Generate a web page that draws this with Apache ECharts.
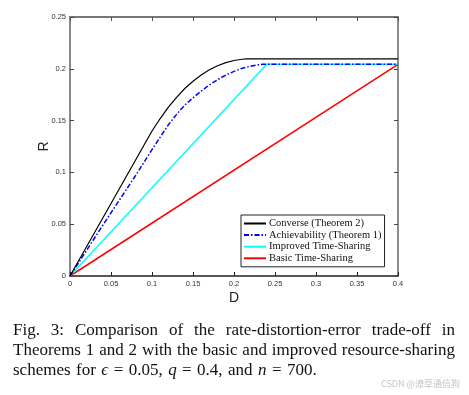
<!DOCTYPE html>
<html>
<head>
<meta charset="utf-8">
<script src="https://cdn.jsdelivr.net/npm/echarts@6/dist/echarts.min.js"></script>
<style>
  html, body { margin: 0; padding: 0; background: #fff; }
  #chart { position: absolute; left: 0; top: 0; width: 469px; height: 395px; }
  .cap { position: absolute; left: 13px; width: 442px; font-family: 'Liberation Serif', 'Times New Roman', serif; font-size: 17px; line-height: 20px; color: #111; white-space: nowrap; }
  .just { text-align: justify; text-align-last: justify; }
  .m { font-style: italic; }
  #wm { position: absolute; right: 9px; top: 377px; font-family: 'Noto Sans CJK SC', sans-serif; font-size: 9px; color: #c4c4c4; }
</style>
</head>
<body>
<div id="chart"></div>
<div class="cap just" style="top:320px;">Fig. 3: Comparison of the rate-distortion-error trade-off in</div>
<div class="cap just" style="top:340px;">Theorems 1 and 2 with the basic and improved resource-sharing</div>
<div class="cap" style="top:360px; word-spacing: 1.2px;">schemes for <span class="m">ϵ</span> = 0.05, <span class="m">q</span> = 0.4, and <span class="m">n</span> = 700.</div>
<div id="wm">CSDN @潦草通信狗</div>
<script>
// ---- data ----
const seriesNames = ['Converse (Theorem 2)', 'Achievability (Theorem 1)', 'Improved Time-Sharing', 'Basic Time-Sharing'];

const converseD = [0, 0.02, 0.04, 0.06, 0.08, 0.09, 0.10, 0.11, 0.12, 0.13, 0.14, 0.15, 0.16, 0.17, 0.18, 0.19, 0.20, 0.21, 0.215, 0.4];
const converseR = [0, 0.028, 0.056, 0.084, 0.112, 0.126, 0.140, 0.152, 0.163, 0.1725, 0.181, 0.188, 0.194, 0.199, 0.203, 0.206, 0.208, 0.2092, 0.2095, 0.2095];

const achD = [0, 0.04, 0.08, 0.10, 0.11, 0.12, 0.13, 0.14, 0.15, 0.16, 0.17, 0.18, 0.19, 0.20, 0.21, 0.22, 0.23, 0.235, 0.4];
const achR = [0, 0.049, 0.097, 0.122, 0.134, 0.146, 0.156, 0.165, 0.172, 0.1785, 0.1845, 0.1895, 0.194, 0.1975, 0.2005, 0.2025, 0.2038, 0.2043, 0.2043];

const improvedD = [0, 0.24, 0.4];
const improvedR = [0, 0.2043, 0.2043];

const basicD = [0, 0.4];
const basicR = [0, 0.2043];

const xTicks = { min: 0, max: 0.4, interval: 0.05 };
const yTicks = { min: 0, max: 0.25, interval: 0.05 };

function pairs(xs, ys) { return xs.map((x, i) => [x, ys[i]]); }

const chart = echarts.init(document.getElementById('chart'), null, { renderer: 'canvas' });

const labelStyle = { fontFamily: 'Liberation Sans, Arial, sans-serif', fontSize: 7.5, color: '#333' };

const option = {
  animation: false,
  backgroundColor: '#fff',
  grid: { left: 70, top: 17, width: 328, height: 259 },
  legend: {
    orient: 'vertical',
    left: 241, top: 215,
    padding: [3, 3, 3, 2],
    itemWidth: 22, itemHeight: 12, itemGap: 0.6,
    backgroundColor: '#fff',
    borderColor: '#222', borderWidth: 1, borderRadius: 0,
    itemStyle: { opacity: 0 },
    textStyle: { fontFamily: 'Liberation Serif, Times New Roman, serif', fontSize: 10.5, color: '#111', padding: [0, 0, 0, -2] },
    data: seriesNames
  },
  xAxis: [
    {
      type: 'value', ...xTicks, position: 'bottom',
      name: 'D', nameLocation: 'middle', nameGap: 15, nameMoveOverlap: false,
      nameTextStyle: { fontFamily: 'Liberation Sans, Arial, sans-serif', fontSize: 14, color: '#222' },
      axisLine: { onZero: false, lineStyle: { color: '#222', width: 1.5 } },
      axisTick: { inside: true, length: 4, lineStyle: { color: '#222' } },
      axisLabel: { ...labelStyle, margin: 4 },
      splitLine: { show: false }
    },
    {
      type: 'value', ...xTicks, position: 'top',
      axisLine: { onZero: false, lineStyle: { color: '#777', width: 1.8 } },
      axisTick: { inside: true, length: 4, lineStyle: { color: '#555' } },
      axisLabel: { show: false },
      splitLine: { show: false }
    }
  ],
  yAxis: [
    {
      type: 'value', ...yTicks, position: 'left',
      name: 'R', nameLocation: 'middle', nameGap: 19, nameRotate: 90, nameMoveOverlap: false,
      nameTextStyle: { fontFamily: 'Liberation Sans, Arial, sans-serif', fontSize: 14, color: '#222' },
      axisLine: { onZero: false, lineStyle: { color: '#888', width: 2 } },
      axisTick: { inside: true, length: 4, lineStyle: { color: '#444' } },
      axisLabel: { ...labelStyle, margin: 4 },
      splitLine: { show: false }
    },
    {
      type: 'value', ...yTicks, position: 'right',
      axisLine: { onZero: false, lineStyle: { color: '#666', width: 1.5 } },
      axisTick: { inside: true, length: 4, lineStyle: { color: '#444' } },
      axisLabel: { show: false },
      splitLine: { show: false }
    }
  ],
  series: [
    {
      name: seriesNames[0], type: 'line', symbol: 'none',
      lineStyle: { color: '#000', width: 1.2 }, itemStyle: { color: '#000' },
      data: pairs(converseD, converseR), z: 4
    },
    {
      name: seriesNames[1], type: 'line', symbol: 'none',
      lineStyle: { color: '#0000ff', width: 1.5, type: [5, 2, 1.5, 2] }, itemStyle: { color: '#0000ff' },
      data: pairs(achD, achR), z: 3
    },
    {
      name: seriesNames[2], type: 'line', symbol: 'none',
      lineStyle: { color: '#00ffff', width: 1.5 }, itemStyle: { color: '#00ffff' },
      data: pairs(improvedD, improvedR), z: 2
    },
    {
      name: seriesNames[3], type: 'line', symbol: 'none',
      lineStyle: { color: '#ff0000', width: 1.5 }, itemStyle: { color: '#ff0000' },
      data: pairs(basicD, basicR), z: 1
    }
  ]
};
chart.setOption(option);
</script>
</body>
</html>
